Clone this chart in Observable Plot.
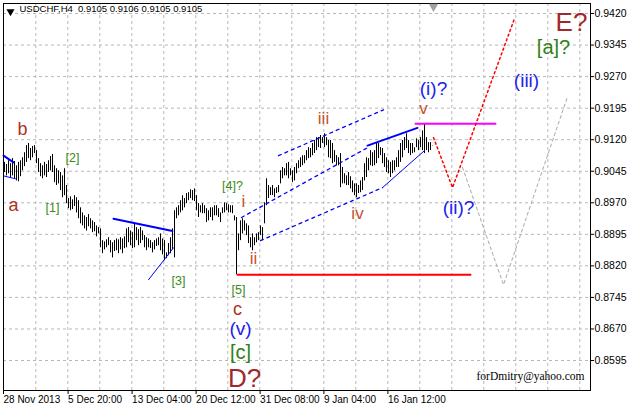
<!DOCTYPE html>
<html><head><meta charset="utf-8">
<script src="https://cdn.jsdelivr.net/npm/d3@7"></script>
<script src="https://cdn.jsdelivr.net/npm/@observablehq/plot@0.6"></script>
<style>
html,body{margin:0;padding:0;background:#fff;}
#chart{width:627px;height:409px;overflow:hidden;}
</style></head><body><div id="chart"></div>
<script>
// ---- data ----
const symbol = "USDCHF", timeframe = "H4";
const lastQuote = [0.9105, 0.9106, 0.9105, 0.9105];

const highs = [
.9066,.9061,.9070,.9063,.9075,.9068,.9058,.9066,.9070,.9077,
.9089,.9106,.9111,.9099,.9104,.9106,.9094,.9075,.9063,.9058,
.9066,.9061,.9070,.9080,.9085,.9058,.9051,.9046,.9042,.9034,
.9051,.9011,.8980,.8984,.8977,.8987,.8982,.8975,.8958,.8946,
.8939,.8935,.8942,.8932,.8927,.8923,.8915,.8911,.8908,.8880,
.8877,.8882,.8887,.8880,.8875,.8880,.8884,.8882,.8887,.8884,
.8889,.8908,.8911,.8903,.8899,.8920,.8911,.8906,.8911,.8903,
.8892,.8887,.8884,.8880,.8875,.8880,.8884,.8887,.8896,.8884,
.8880,.8851,.8873,.8887,.8908,.8951,.8958,.8963,.8975,.8987,
.8980,.8992,.8994,.9001,.8999,.9003,.8987,.8968,.8963,.8968,
.8963,.8956,.8951,.8958,.8958,.8963,.8963,.8956,.8946,.8958,
.8970,.8968,.8965,.8963,.8963,.8939,.8935,.8896,.8927,.8932,
.8927,.8920,.8915,.8887,.8896,.8887,.8896,.8899,.8915,.8911,
.8970,.9027,.9011,.9006,.9011,.9003,.9006,.9011,.9046,.9054,
.9051,.9063,.9066,.9051,.9046,.9054,.9063,.9070,.9077,.9082,
.9082,.9094,.9101,.9099,.9111,.9118,.9125,.9125,.9130,.9125,
.9134,.9125,.9118,.9118,.9111,.9094,.9082,.9077,.9087,.9054,
.9039,.9034,.9042,.9032,.9022,.9015,.9015,.9011,.9022,.9030,
.9063,.9077,.9075,.9094,.9089,.9094,.9111,.9111,.9101,.9099,
.9087,.9077,.9070,.9066,.9070,.9070,.9077,.9094,.9111,.9118,
.9125,.9134,.9118,.9111,.9111,.9101,.9122,.9118,.9125,.9141,
.9158,.9125,.9113,.9113,.9106];
const lows = [
.9042,.9034,.9039,.9030,.9034,.9027,.9022,.9020,.9032,.9046,
.9056,.9066,.9075,.9070,.9077,.9087,.9063,.9042,.9032,.9027,
.9034,.9030,.9042,.9046,.9042,.9018,.9011,.9015,.8999,.8982,
.8987,.8968,.8956,.8951,.8954,.8961,.8946,.8932,.8920,.8915,
.8908,.8903,.8913,.8908,.8899,.8901,.8889,.8896,.8863,.8849,
.8858,.8863,.8868,.8851,.8839,.8854,.8856,.8849,.8858,.8849,
.8861,.8863,.8875,.8868,.8861,.8863,.8880,.8868,.8873,.8880,
.8863,.8856,.8863,.8861,.8851,.8858,.8866,.8868,.8856,.8846,
.8832,.8837,.8844,.8849,.8858,.8839,.8932,.8939,.8946,.8951,
.8958,.8968,.8975,.8980,.8975,.8973,.8951,.8935,.8946,.8944,
.8944,.8923,.8927,.8935,.8927,.8939,.8939,.8935,.8923,.8944,
.8946,.8951,.8946,.8946,.8944,.8927,.8799,.8856,.8880,.8896,
.8903,.8892,.8873,.8863,.8856,.8868,.8875,.8880,.8892,.8880,
.8920,.8963,.8980,.8987,.8987,.8982,.8992,.8994,.9015,.9027,
.9034,.9034,.9027,.9034,.9018,.9022,.9039,.9051,.9054,.9058,
.9063,.9070,.9075,.9077,.9082,.9087,.9094,.9101,.9099,.9111,
.9101,.9106,.9077,.9075,.9063,.9066,.9058,.9058,.9006,.9015,
.9015,.9011,.9011,.9003,.8994,.8987,.8982,.8992,.8994,.8999,
.9022,.9030,.9046,.9058,.9056,.9058,.9063,.9075,.9082,.9063,
.9054,.9042,.9039,.9030,.9039,.9046,.9054,.9054,.9066,.9077,
.9094,.9099,.9087,.9082,.9087,.9089,.9101,.9094,.9101,.9094,
.9087,.9094,.9089,.9094,.9105];

const yTicks = [0.9420,0.9345,0.9270,0.9195,0.9120,0.9045,0.8970,0.8895,0.8820,0.8745,0.8670,0.8595];
const xTickIdx = [-0.5, 31.8, 63.8, 95.8, 127.8, 159.7, 191.7];
const xTickLabels = ["28 Nov 2013","5 Dec 20:00","13 Dec 04:00","20 Dec 12:00","31 Dec 08:00","9 Jan 04:00","16 Jan 12:00"];

// trend lines: [bar index, price] points
const blueThick = [
  [[-0.5,0.9082],[4.5,0.9066]],
  [[54.5,0.8932],[84,0.8903]],
  [[181.5,0.9106],[206.5,0.9148]]
];
const blueThin = [
  [[-0.5,0.9034],[5.5,0.9027]],
  [[72,0.8787],[84.5,0.8863]],
  [[189,0.9006],[210,0.9094]]
];
const blueDashed = [
  [[137,0.9082],[189.5,0.9191]],
  [[118.5,0.8935],[181.5,0.9101]],
  [[128,0.8880],[189,0.9006]]
];
const redLevel = [[116.5,0.8799],[233,0.8799]];
const magentaLevel = [[205.5,0.9158],[245.5,0.9158]];
const redPath = [[214.5,0.9125],[224,0.9006],[255,0.9408]];
const grayPath = [[229,0.9054],[249.5,0.8775],[281.5,0.9222]];

// wave labels: text, bar index, price
const abcText = ["a","b","c"], abcIdx = [4.5,9,116.5], abcPrice = [0.8963,0.9146,0.8718];
const romanText = ["i","ii","iii","iv","v"], romanIdx = [119.5,124.5,159.5,176.5,209.5], romanPrice = [0.8973,0.8837,0.9170,0.8944,0.9194];
const minuteText = ["(v)","(i)?","(ii)?","(iii)"], minuteIdx = [118,214.5,227,261], minutePrice = [0.8670,0.9241,0.8958,0.9260];
const minorText = ["[1]","[2]","[3]","[4]?","[5]"], minorIdx = [24,34,87,114,117], minorPrice = [0.8958,0.9077,0.8785,0.9011,0.8762];
const interText = ["[c]","[a]?"], interIdx = [118,274.5], interPrice = [0.8613,0.9339];
const primaryText = ["D?","E?"], primaryIdx = [120,283.5], primaryPrice = [0.8551,0.9398];

// ---- build ----
const bars = highs.map((h,i)=>({i, h, l: lows[i]}));
const segs = (list) => list.flatMap((pts,k)=>pts.map(([i,p])=>({i,p,k})));
const pts = (list) => list.map(([i,p])=>({i,p}));
const lab = (t,x,y) => t.map((s,k)=>({t:s, i:x[k], p:y[k]}));
const xTickMap = new Map(xTickIdx.map((d,k)=>[d,xTickLabels[k]]));
const vGrid = d3.range(1,19).map(k=>16*k-0.35);

const FONT = "'Liberation Sans', Arial, sans-serif";
const textMark = (data, fill, size) => Plot.text(data, {x:"i", y:"p", text:"t", fill, fontSize:size, fontFamily: FONT});

const chart = Plot.plot({
  width: 627, height: 409,
  marginLeft: 3, marginRight: 37, marginTop: 3, marginBottom: 19,
  x: {domain: [-0.5, 293], axis: null, label: null},
  y: {domain: [0.85237, 0.94438], axis: null, label: null},
  style: {fontFamily: FONT, fontSize: "10px", background: "#fff", color: "#000"},
  marks: [
    Plot.gridY(yTicks, {stroke: "#b8b8b8", strokeOpacity: 1, strokeDasharray: "3,3"}),
    Plot.gridX(vGrid, {stroke: "#b8b8b8", strokeOpacity: 1, strokeDasharray: "3,3"}),
    Plot.ruleX(bars, {x: "i", y1: "l", y2: "h", stroke: "#000", strokeWidth: 1}),
    Plot.line(segs(blueDashed), {x:"i", y:"p", z:"k", stroke:"#0000ff", strokeWidth:1.3, strokeDasharray:"3,4"}),
    Plot.line(segs(blueThick), {x:"i", y:"p", z:"k", stroke:"#0000ff", strokeWidth:2}),
    Plot.line(segs(blueThin), {x:"i", y:"p", z:"k", stroke:"#0000ff", strokeWidth:1}),
    Plot.line(pts(redLevel), {x:"i", y:"p", stroke:"#ff0000", strokeWidth:2}),
    Plot.line(pts(magentaLevel), {x:"i", y:"p", stroke:"#ff00ff", strokeWidth:2}),
    Plot.line(pts(grayPath), {x:"i", y:"p", stroke:"#a8a8a8", strokeWidth:1, strokeDasharray:"3,3"}),
    Plot.line(pts(redPath), {x:"i", y:"p", stroke:"#ff0000", strokeWidth:1.5, strokeDasharray:"2,3"}),
    textMark(lab(abcText,abcIdx,abcPrice), "#b0301e", 18),
    textMark(lab(romanText,romanIdx,romanPrice), "#c4522a", 17),
    textMark(lab(minuteText,minuteIdx,minutePrice), "#2222ee", 19),
    textMark(lab(minorText,minorIdx,minorPrice), "#3a8a1a", 12.5),
    textMark(lab(interText,interIdx,interPrice), "#2f7f14", 20),
    textMark(lab(primaryText,primaryIdx,primaryPrice), "#a0282a", 26),
    Plot.frame({stroke: "#000"}),
    Plot.dot([0], {x: highs.length - 0.5, frameAnchor: "top", dy: 3, symbol: "triangle", r: 3.5, rotate: 180, fill: "#a0a0a0", stroke: null}),
    Plot.dot([0], {frameAnchor: "top-left", dx: 7, dy: 8, symbol: "triangle", r: 3, rotate: 180, fill: "#000", stroke: null}),
    Plot.text([`${symbol},${timeframe}  ${lastQuote.map(v=>v.toFixed(4)).join(" ")}`], {frameAnchor: "top-left", dx: 16, dy: 2, textAnchor: "start", lineAnchor: "top", fontSize: 9.5, fontFamily: FONT, fill: "#000"}),
    Plot.text(["forDmitry@yahoo.com"], {frameAnchor: "bottom-right", dx: -6, dy: -11, textAnchor: "end", lineAnchor: "bottom", fontSize: 11.5, fontFamily: "'Liberation Serif', 'Times New Roman', serif", fill: "#000"}),
    Plot.axisY(yTicks, {anchor: "right", label: null, tickSize: 3, tickPadding: 1, tickFormat: d => d.toFixed(4), fontSize: 10.5}),
    Plot.axisX(xTickIdx, {anchor: "bottom", label: null, tickSize: 4, tickPadding: 1, tickFormat: d => xTickMap.get(d), textAnchor: "start", dx: 0, fontSize: 10, letterSpacing: "-0.4px"})
  ]
});
document.getElementById("chart").appendChild(chart);
</script>
</body></html>
